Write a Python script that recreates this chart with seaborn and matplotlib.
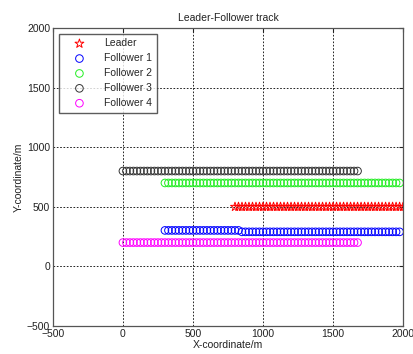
import matplotlib
matplotlib.use("Agg")
import matplotlib.pyplot as plt
import seaborn as sns

# ---- data ----
leader_x = [800, 825, 850, 875, 900, 925, 950, 975, 1000, 1025, 1050, 1075, 1100, 1125,
            1150, 1175, 1200, 1225, 1250, 1275, 1300, 1325, 1350, 1375, 1400, 1425, 1450,
            1475, 1500, 1525, 1550, 1575, 1600, 1625, 1650, 1675, 1700, 1725, 1750, 1775,
            1800, 1825, 1850, 1875, 1900, 1925, 1950, 1975, 2000]
leader_y = 500

f12_x = [300, 325, 350, 375, 400, 425, 450, 475, 500, 525, 550, 575, 600, 625, 650, 675,
         700, 725, 750, 775, 800, 825, 850, 875, 900, 925, 950, 975, 1000, 1025, 1050,
         1075, 1100, 1125, 1150, 1175, 1200, 1225, 1250, 1275, 1300, 1325, 1350, 1375,
         1400, 1425, 1450, 1475, 1500, 1525, 1550, 1575, 1600, 1625, 1650, 1675, 1700,
         1725, 1750, 1775, 1800, 1825, 1850, 1875, 1900, 1925, 1950, 1975]
f1_y_start, f1_y_end, f1_break_x = 302, 290, 850
f2_y = 700

f34_x = [0, 25, 50, 75, 100, 125, 150, 175, 200, 225, 250, 275, 300, 325, 350, 375, 400,
         425, 450, 475, 500, 525, 550, 575, 600, 625, 650, 675, 700, 725, 750, 775, 800,
         825, 850, 875, 900, 925, 950, 975, 1000, 1025, 1050, 1075, 1100, 1125, 1150,
         1175, 1200, 1225, 1250, 1275, 1300, 1325, 1350, 1375, 1400, 1425, 1450, 1475,
         1500, 1525, 1550, 1575, 1600, 1625, 1650, 1675]
f3_y = 800
f4_y = 200

x_ticks = [-500, 0, 500, 1000, 1500, 2000]
y_ticks = [-500, 0, 500, 1000, 1500, 2000]

# ---- figure ----
sns.set_style("white")
plt.rcParams["font.family"] = ["Liberation Sans", "DejaVu Sans"]

fig = plt.figure(figsize=(4.13, 3.54), dpi=100)
ax = fig.add_axes([0.128, 0.079, 0.848, 0.842])

def hollow(x, y, color, label, marker="o", s=30, lw=0.7):
    sns.scatterplot(x=x, y=y, ax=ax, marker=marker, s=s, facecolors="none",
                    edgecolors=color, color=color, linewidth=lw, label=label, zorder=3)

hollow(leader_x, [leader_y] * len(leader_x), "red", "Leader", marker="*", s=45)
f1_y = [f1_y_start if xv < f1_break_x else f1_y_end for xv in f12_x]
hollow(f12_x, f1_y, "blue", "Follower 1")
hollow(f12_x, [f2_y] * len(f12_x), "#22ee22", "Follower 2")
hollow(f34_x, [f3_y] * len(f34_x), "#333333", "Follower 3")
hollow(f34_x, [f4_y] * len(f34_x), "magenta", "Follower 4")

ax.set_xlim(-500, 2000)
ax.set_ylim(-500, 2000)
ax.set_xticks(x_ticks)
ax.set_yticks(y_ticks)
ax.grid(True, linestyle=(0, (2, 2)), color="black", linewidth=0.6)
ax.tick_params(direction="in", length=3, labelsize=7.5, colors="#222222",
               top=True, right=True, pad=2)
for sp in ax.spines.values():
    sp.set_color("#555555")
    sp.set_linewidth(0.9)

ax.set_title("Leader-Follower track", fontsize=7.5, color="#222222", pad=5)
ax.set_xlabel("X-coordinate/m", fontsize=7.5, color="#222222", labelpad=1)
ax.set_ylabel("Y-coordinate/m", fontsize=7.5, color="#222222", labelpad=2)

leg = ax.legend(loc="upper left", fontsize=7.5, frameon=True, fancybox=False,
                edgecolor="#333333", borderpad=0.45, labelspacing=0.47,
                handletextpad=0.8, borderaxespad=0.55, handlelength=3.1)
leg.get_frame().set_linewidth(1.0)

fig.savefig("out.png", dpi=100)
